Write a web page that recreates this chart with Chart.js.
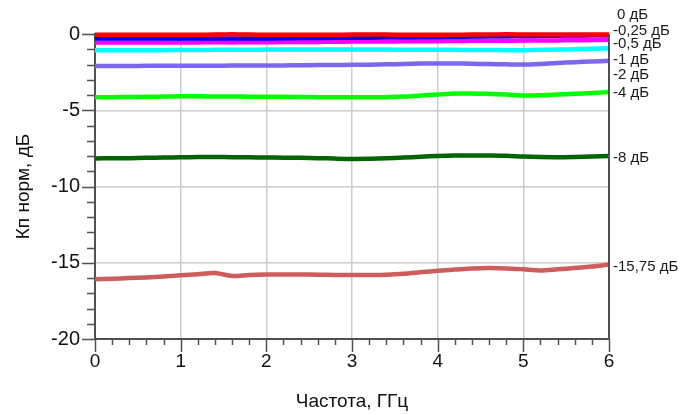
<!DOCTYPE html>
<html>
<head>
<meta charset="utf-8">
<script src="https://cdn.jsdelivr.net/npm/chart.js@4/dist/chart.umd.min.js"></script>
<style>
  html, body { margin: 0; padding: 0; background: #fff; }
  #wrap { width: 698px; height: 415px; }
</style>
</head>
<body>
<div id="wrap"><canvas id="c" width="698" height="415"></canvas></div>
<script>
const freq = [0, 0.2, 0.4, 0.6, 0.8, 1.0, 1.2, 1.4, 1.6, 1.8, 2.0, 2.2, 2.4, 2.6, 2.8, 3.0,
  3.2, 3.4, 3.6, 3.8, 4.0, 4.2, 4.4, 4.6, 4.8, 5.0, 5.2, 5.4, 5.6, 5.8, 6.0];

const att0 = [-0.05, -0.05, -0.05, -0.05, -0.05, -0.05, -0.05, -0.04, -0.01, -0.04, -0.05, -0.05, -0.05, -0.05, -0.05, -0.04,
  -0.03, -0.04, -0.05, -0.05, -0.05, -0.05, -0.04, -0.04, -0.02, -0.03, -0.04, -0.04, -0.04, -0.03, -0.03];
const att025 = [-0.3, -0.3, -0.3, -0.3, -0.3, -0.3, -0.3, -0.3, -0.3, -0.3, -0.3, -0.28, -0.27, -0.26, -0.25, -0.25,
  -0.24, -0.22, -0.21, -0.2, -0.19, -0.18, -0.17, -0.15, -0.14, -0.13, -0.12, -0.11, -0.1, -0.09, -0.08];
const att05 = [-0.55, -0.55, -0.56, -0.55, -0.55, -0.55, -0.55, -0.54, -0.55, -0.54, -0.54, -0.53, -0.53, -0.52, -0.51, -0.5,
  -0.49, -0.49, -0.48, -0.47, -0.47, -0.46, -0.45, -0.45, -0.44, -0.43, -0.43, -0.42, -0.41, -0.4, -0.38];
const att1 = [-1.07, -1.07, -1.06, -1.06, -1.06, -1.05, -1.05, -1.04, -1.03, -1.03, -1.02, -1.02, -1.01, -1.01, -1.02, -1.02,
  -1.02, -1.02, -1.03, -1.03, -1.03, -1.04, -1.05, -1.05, -1.06, -1.06, -1.04, -1.02, -1.0, -0.97, -0.94];
const att2 = [-2.1, -2.1, -2.1, -2.09, -2.09, -2.08, -2.08, -2.08, -2.07, -2.07, -2.06, -2.06, -2.05, -2.04, -2.03, -2.02,
  -2.01, -1.99, -1.97, -1.94, -1.93, -1.93, -1.95, -1.97, -1.99, -2.0, -1.96, -1.9, -1.85, -1.8, -1.76];
const att4 = [-4.15, -4.14, -4.13, -4.12, -4.1, -4.09, -4.09, -4.1, -4.1, -4.11, -4.11, -4.12, -4.13, -4.14, -4.15, -4.15,
  -4.15, -4.14, -4.1, -4.03, -3.97, -3.9, -3.9, -3.93, -3.97, -4.03, -4.02, -3.97, -3.92, -3.87, -3.8];
const att8 = [-8.16, -8.15, -8.14, -8.12, -8.1, -8.09, -8.07, -8.06, -8.08, -8.09, -8.1, -8.11, -8.12, -8.14, -8.17, -8.19,
  -8.18, -8.15, -8.1, -8.05, -8.0, -7.97, -7.96, -7.97, -7.99, -8.04, -8.07, -8.08, -8.06, -8.03, -8.0];
const att1575 = [-16.08, -16.05, -16.0, -15.96, -15.9, -15.82, -15.75, -15.68, -15.87, -15.8, -15.77, -15.77, -15.77, -15.78, -15.8, -15.81,
  -15.8, -15.78, -15.72, -15.62, -15.52, -15.45, -15.38, -15.35, -15.37, -15.43, -15.5, -15.43, -15.35, -15.25, -15.12];

const seriesNames = ['0 дБ', '-0,25 дБ', '-0,5 дБ', '-1 дБ', '-2 дБ', '-4 дБ', '-8 дБ', '-15,75 дБ'];
const seriesData = [att0, att025, att05, att1, att2, att4, att8, att1575];
const seriesColors = ['#ff0000', '#0000ff', '#ff00ff', '#00ffff', '#7b68ee', '#00ff00', '#006400', '#cd5c5c'];

// where the curve labels sit on the right, in dB
const labelAt = [1.24, 0.18, -0.64, -1.68, -2.66, -3.83, -8.11, -15.28];

const FONT = '"Liberation Sans", Arial, sans-serif';
const AXIS = '#505050';

const extras = {
  id: 'extras',
  afterDraw(chart) {
    const { ctx, chartArea: a, scales: { x, y } } = chart;
    ctx.save();
    ctx.strokeStyle = AXIS;
    ctx.lineWidth = 1.5;
    ctx.beginPath();
    for (let v = 0; v <= 20; v++) {
      const py = Math.round(y.getPixelForValue(-v)) + 0.5;
      const len = v % 5 === 0 ? 13 : 8;
      ctx.moveTo(a.left - len, py);
      ctx.lineTo(a.left, py);
    }
    for (let i = 0; i <= 30; i++) {
      const px = Math.round(x.getPixelForValue(i * 0.2)) + 0.5;
      const len = i % 5 === 0 ? 13 : 6;
      ctx.moveTo(px, a.bottom);
      ctx.lineTo(px, a.bottom + len);
    }
    ctx.stroke();
    // right edge line
    ctx.lineWidth = 2;
    ctx.beginPath();
    ctx.moveTo(a.right, a.top);
    ctx.lineTo(a.right, a.bottom);
    ctx.stroke();
    // curve labels
    ctx.fillStyle = '#1a1a1a';
    ctx.font = '15px ' + FONT;
    ctx.textBaseline = 'middle';
    ctx.textAlign = 'left';
    seriesNames.forEach((name, i) => {
      const dx = name.startsWith('-') ? 4 : 8;
      ctx.fillText(name, a.right + dx, y.getPixelForValue(labelAt[i]));
    });
    ctx.restore();
  }
};

new Chart(document.getElementById('c'), {
  type: 'line',
  data: {
    datasets: seriesData.map((d, i) => ({
      label: seriesNames[i],
      data: d.map((v, k) => ({ x: freq[k], y: v })),
      borderColor: seriesColors[i],
      borderWidth: 4.5,
      pointRadius: 0,
      tension: 0.3,
      clip: 6
    }))
  },
  options: {
    responsive: false,
    animation: false,
    layout: { padding: { top: 34, right: 89, left: 0, bottom: 0 } },
    plugins: { legend: { display: false }, tooltip: { enabled: false } },
    scales: {
      x: {
        type: 'linear',
        min: 0,
        max: 6,
        afterFit: s => { s.height = 76; },
        border: { color: AXIS, width: 2 },
        grid: {
          drawTicks: false,
          color: c => (c.tick && c.tick.value > 0 && c.tick.value < 6) ? '#cccccc' : 'rgba(0,0,0,0)',
          lineWidth: 1.5
        },
        ticks: { stepSize: 1, padding: 11, color: '#111', font: { family: FONT, size: 19 } },
        title: {
          display: true,
          text: 'Частота, ГГц',
          color: '#111',
          font: { family: FONT, size: 19 },
          padding: { top: 0, bottom: 2 }
        }
      },
      y: {
        min: -20,
        max: 0,
        afterFit: s => { s.width = 95; },
        border: { color: AXIS, width: 2 },
        grid: {
          drawTicks: false,
          color: c => (c.tick && c.tick.value < 0 && c.tick.value > -20) ? '#cccccc' : 'rgba(0,0,0,0)',
          lineWidth: 1.5
        },
        ticks: { stepSize: 5, padding: 15, color: '#111', font: { family: FONT, size: 20 } },
        title: {
          display: true,
          text: 'Кп норм, дБ',
          color: '#111',
          font: { family: FONT, size: 19 },
          padding: { top: 12, bottom: 0 }
        }
      }
    }
  },
  plugins: [extras]
});
</script>
</body>
</html>
